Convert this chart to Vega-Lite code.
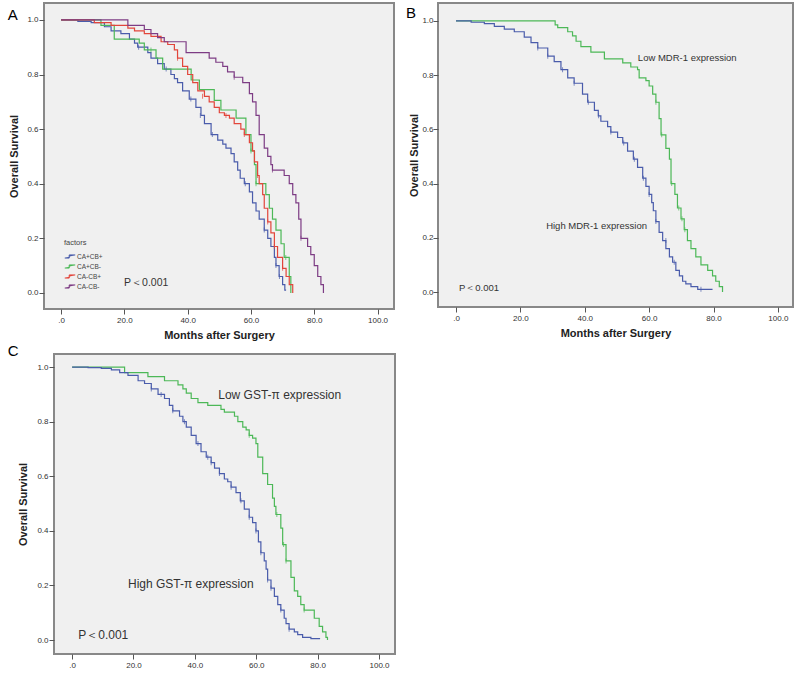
{
"$schema": "https://vega.github.io/schema/vega-lite/v6.json",
"background": "white",
"padding": {"left": 6, "top": 2, "right": 0, "bottom": 0},
"config": {
  "view": {"stroke": "#888888", "strokeWidth": 2, "fill": "#f0f0f0"},
  "axis": {"labelFont": "Liberation Sans", "labelFontSize": 8, "labelColor": "#333333", "tickColor": "#555555", "tickSize": 5, "domain": false, "grid": false, "titleFont": "Liberation Sans", "titleFontSize": 11, "titleFontWeight": "bold", "titleColor": "#222222"},
  "axisX": {"labelPadding": 2, "titlePadding": 5.5},
  "axisY": {"minExtent": 18, "maxExtent": 18},
  "text": {"font": "Liberation Sans", "color": "#333333"}
},
"datasets": {
  "A": [
    {"g":"CA+CB+","t":0,"s":1},{"g":"CA+CB+","t":5.3,"s":0.995},{"g":"CA+CB+","t":9.5,"s":0.99},{"g":"CA+CB+","t":13.7,"s":0.975},{"g":"CA+CB+","t":15.8,"s":0.96},{"g":"CA+CB+","t":18.9,"s":0.95},{"g":"CA+CB+","t":21.6,"s":0.93},{"g":"CA+CB+","t":23.2,"s":0.915},{"g":"CA+CB+","t":24.2,"s":0.9},{"g":"CA+CB+","t":27.4,"s":0.88},{"g":"CA+CB+","t":28.4,"s":0.86},{"g":"CA+CB+","t":30.5,"s":0.84},{"g":"CA+CB+","t":32.6,"s":0.82},{"g":"CA+CB+","t":34.7,"s":0.8},{"g":"CA+CB+","t":35.8,"s":0.785},{"g":"CA+CB+","t":36.8,"s":0.77},{"g":"CA+CB+","t":38.4,"s":0.74},{"g":"CA+CB+","t":40.5,"s":0.71},{"g":"CA+CB+","t":42.6,"s":0.68},{"g":"CA+CB+","t":44.2,"s":0.65},{"g":"CA+CB+","t":45.3,"s":0.62},{"g":"CA+CB+","t":47.4,"s":0.58},{"g":"CA+CB+","t":49.5,"s":0.56},{"g":"CA+CB+","t":51.1,"s":0.545},{"g":"CA+CB+","t":52.1,"s":0.53},{"g":"CA+CB+","t":53.7,"s":0.51},{"g":"CA+CB+","t":54.7,"s":0.48},{"g":"CA+CB+","t":55.8,"s":0.45},{"g":"CA+CB+","t":56.6,"s":0.42},{"g":"CA+CB+","t":57.9,"s":0.4},{"g":"CA+CB+","t":59.5,"s":0.37},{"g":"CA+CB+","t":60.5,"s":0.33},{"g":"CA+CB+","t":61.6,"s":0.3},{"g":"CA+CB+","t":62.6,"s":0.27},{"g":"CA+CB+","t":64.2,"s":0.23},{"g":"CA+CB+","t":65.3,"s":0.2},{"g":"CA+CB+","t":66.3,"s":0.17},{"g":"CA+CB+","t":67.4,"s":0.13},{"g":"CA+CB+","t":67.9,"s":0.1},{"g":"CA+CB+","t":68.9,"s":0.06},{"g":"CA+CB+","t":70.0,"s":0.03},{"g":"CA+CB+","t":70.7,"s":0.01},{"g":"CA+CB+","t":71.1,"s":0.01},
    {"g":"CA+CB-","t":0,"s":1},{"g":"CA+CB-","t":12.6,"s":0.98},{"g":"CA+CB-","t":16.8,"s":0.93},{"g":"CA+CB-","t":24.7,"s":0.915},{"g":"CA+CB-","t":26.3,"s":0.89},{"g":"CA+CB-","t":30.0,"s":0.86},{"g":"CA+CB-","t":32.1,"s":0.82},{"g":"CA+CB-","t":41.1,"s":0.78},{"g":"CA+CB-","t":43.7,"s":0.745},{"g":"CA+CB-","t":48.4,"s":0.705},{"g":"CA+CB-","t":50.5,"s":0.67},{"g":"CA+CB-","t":55.3,"s":0.64},{"g":"CA+CB-","t":58.4,"s":0.58},{"g":"CA+CB-","t":60.0,"s":0.52},{"g":"CA+CB-","t":61.1,"s":0.47},{"g":"CA+CB-","t":61.6,"s":0.4},{"g":"CA+CB-","t":64.7,"s":0.36},{"g":"CA+CB-","t":65.8,"s":0.31},{"g":"CA+CB-","t":66.8,"s":0.27},{"g":"CA+CB-","t":67.9,"s":0.23},{"g":"CA+CB-","t":69.5,"s":0.18},{"g":"CA+CB-","t":70.5,"s":0.13},{"g":"CA+CB-","t":72.1,"s":0.06},{"g":"CA+CB-","t":72.6,"s":0.0},
    {"g":"CA-CB+","t":0,"s":1},{"g":"CA-CB+","t":10.5,"s":0.99},{"g":"CA-CB+","t":15.8,"s":0.98},{"g":"CA-CB+","t":21.1,"s":0.97},{"g":"CA-CB+","t":23.2,"s":0.96},{"g":"CA-CB+","t":26.3,"s":0.95},{"g":"CA-CB+","t":28.4,"s":0.94},{"g":"CA-CB+","t":31.6,"s":0.92},{"g":"CA-CB+","t":33.7,"s":0.91},{"g":"CA-CB+","t":35.8,"s":0.89},{"g":"CA-CB+","t":36.8,"s":0.86},{"g":"CA-CB+","t":38.4,"s":0.83},{"g":"CA-CB+","t":40.0,"s":0.8},{"g":"CA-CB+","t":41.6,"s":0.77},{"g":"CA-CB+","t":43.2,"s":0.74},{"g":"CA-CB+","t":45.3,"s":0.72},{"g":"CA-CB+","t":46.8,"s":0.7},{"g":"CA-CB+","t":48.4,"s":0.68},{"g":"CA-CB+","t":50.0,"s":0.66},{"g":"CA-CB+","t":51.6,"s":0.65},{"g":"CA-CB+","t":53.2,"s":0.64},{"g":"CA-CB+","t":54.7,"s":0.62},{"g":"CA-CB+","t":56.8,"s":0.6},{"g":"CA-CB+","t":57.9,"s":0.58},{"g":"CA-CB+","t":59.5,"s":0.55},{"g":"CA-CB+","t":60.5,"s":0.52},{"g":"CA-CB+","t":61.1,"s":0.48},{"g":"CA-CB+","t":62.1,"s":0.43},{"g":"CA-CB+","t":62.6,"s":0.4},{"g":"CA-CB+","t":63.7,"s":0.36},{"g":"CA-CB+","t":64.2,"s":0.31},{"g":"CA-CB+","t":65.3,"s":0.26},{"g":"CA-CB+","t":66.3,"s":0.22},{"g":"CA-CB+","t":67.4,"s":0.17},{"g":"CA-CB+","t":68.4,"s":0.13},{"g":"CA-CB+","t":70.0,"s":0.09},{"g":"CA-CB+","t":71.1,"s":0.06},{"g":"CA-CB+","t":72.1,"s":0.03},{"g":"CA-CB+","t":73.2,"s":0.0},
    {"g":"CA-CB-","t":0,"s":1},{"g":"CA-CB-","t":21.1,"s":0.98},{"g":"CA-CB-","t":26.3,"s":0.965},{"g":"CA-CB-","t":28.4,"s":0.95},{"g":"CA-CB-","t":30.5,"s":0.935},{"g":"CA-CB-","t":32.6,"s":0.92},{"g":"CA-CB-","t":39.5,"s":0.88},{"g":"CA-CB-","t":46.8,"s":0.86},{"g":"CA-CB-","t":48.9,"s":0.845},{"g":"CA-CB-","t":51.1,"s":0.83},{"g":"CA-CB-","t":52.6,"s":0.81},{"g":"CA-CB-","t":54.7,"s":0.79},{"g":"CA-CB-","t":57.4,"s":0.77},{"g":"CA-CB-","t":59.5,"s":0.73},{"g":"CA-CB-","t":60.5,"s":0.7},{"g":"CA-CB-","t":61.6,"s":0.65},{"g":"CA-CB-","t":62.6,"s":0.58},{"g":"CA-CB-","t":64.2,"s":0.53},{"g":"CA-CB-","t":65.3,"s":0.5},{"g":"CA-CB-","t":66.3,"s":0.47},{"g":"CA-CB-","t":66.8,"s":0.45},{"g":"CA-CB-","t":70.5,"s":0.43},{"g":"CA-CB-","t":72.1,"s":0.4},{"g":"CA-CB-","t":73.2,"s":0.36},{"g":"CA-CB-","t":74.2,"s":0.33},{"g":"CA-CB-","t":75.1,"s":0.27},{"g":"CA-CB-","t":75.8,"s":0.2},{"g":"CA-CB-","t":77.9,"s":0.17},{"g":"CA-CB-","t":78.9,"s":0.14},{"g":"CA-CB-","t":80.0,"s":0.1},{"g":"CA-CB-","t":81.1,"s":0.06},{"g":"CA-CB-","t":82.1,"s":0.03},{"g":"CA-CB-","t":82.9,"s":0.0}
  ],
  "Ac": [
    {"g":"CA+CB+","t":24.5,"s":0.9},{"g":"CA+CB+","t":33.2,"s":0.82},{"g":"CA+CB+","t":41.0,"s":0.71},{"g":"CA+CB+","t":44.0,"s":0.65},{"g":"CA+CB+","t":47.8,"s":0.58},{"g":"CA+CB+","t":58.2,"s":0.4},{"g":"CA+CB+","t":64.2,"s":0.23},{"g":"CA+CB+","t":67.9,"s":0.1},{"g":"CA+CB+","t":69.0,"s":0.06},
    {"g":"CA-CB+","t":36.8,"s":0.86},{"g":"CA-CB+","t":44.7,"s":0.72},{"g":"CA-CB+","t":52.1,"s":0.65},{"g":"CA-CB+","t":57.9,"s":0.58},{"g":"CA-CB+","t":62.1,"s":0.43},{"g":"CA-CB+","t":65.3,"s":0.26},{"g":"CA-CB+","t":67.4,"s":0.17},{"g":"CA-CB+","t":70.0,"s":0.09},
    {"g":"CA+CB-","t":28.4,"s":0.89},{"g":"CA+CB-","t":60.0,"s":0.52},{"g":"CA+CB-","t":61.6,"s":0.4},{"g":"CA+CB-","t":71.0,"s":0.13},
    {"g":"CA-CB-","t":54.7,"s":0.79},{"g":"CA-CB-","t":66.8,"s":0.45},{"g":"CA-CB-","t":75.8,"s":0.2}
  ],
  "B": [
    {"g":"Low","t":0,"s":1},{"g":"Low","t":30.8,"s":0.985},{"g":"Low","t":31.6,"s":0.975},{"g":"Low","t":34.7,"s":0.96},{"g":"Low","t":36.2,"s":0.945},{"g":"Low","t":37.3,"s":0.925},{"g":"Low","t":38.8,"s":0.905},{"g":"Low","t":41.9,"s":0.885},{"g":"Low","t":46.1,"s":0.86},{"g":"Low","t":51.8,"s":0.845},{"g":"Low","t":54.3,"s":0.83},{"g":"Low","t":56.4,"s":0.82},{"g":"Low","t":56.9,"s":0.79},{"g":"Low","t":59.0,"s":0.78},{"g":"Low","t":60.0,"s":0.76},{"g":"Low","t":61.1,"s":0.73},{"g":"Low","t":62.1,"s":0.7},{"g":"Low","t":63.1,"s":0.64},{"g":"Low","t":63.7,"s":0.58},{"g":"Low","t":65.2,"s":0.53},{"g":"Low","t":66.3,"s":0.49},{"g":"Low","t":66.8,"s":0.4},{"g":"Low","t":68.0,"s":0.36},{"g":"Low","t":68.8,"s":0.31},{"g":"Low","t":69.9,"s":0.27},{"g":"Low","t":70.9,"s":0.23},{"g":"Low","t":71.9,"s":0.19},{"g":"Low","t":73.0,"s":0.16},{"g":"Low","t":74.5,"s":0.13},{"g":"Low","t":76.1,"s":0.1},{"g":"Low","t":78.2,"s":0.08},{"g":"Low","t":79.7,"s":0.06},{"g":"Low","t":80.7,"s":0.04},{"g":"Low","t":81.8,"s":0.02},{"g":"Low","t":82.8,"s":0.0},
    {"g":"High","t":0,"s":1},{"g":"High","t":4.7,"s":0.995},{"g":"High","t":8.8,"s":0.99},{"g":"High","t":11.9,"s":0.98},{"g":"High","t":15.0,"s":0.97},{"g":"High","t":18.1,"s":0.96},{"g":"High","t":21.2,"s":0.94},{"g":"High","t":23.3,"s":0.92},{"g":"High","t":25.4,"s":0.9},{"g":"High","t":28.5,"s":0.87},{"g":"High","t":30.5,"s":0.85},{"g":"High","t":32.6,"s":0.82},{"g":"High","t":34.7,"s":0.79},{"g":"High","t":36.7,"s":0.77},{"g":"High","t":39.3,"s":0.73},{"g":"High","t":40.9,"s":0.7},{"g":"High","t":43.0,"s":0.67},{"g":"High","t":44.2,"s":0.65},{"g":"High","t":45.0,"s":0.63},{"g":"High","t":47.1,"s":0.61},{"g":"High","t":48.1,"s":0.59},{"g":"High","t":50.2,"s":0.57},{"g":"High","t":51.8,"s":0.55},{"g":"High","t":53.3,"s":0.52},{"g":"High","t":55.1,"s":0.49},{"g":"High","t":56.4,"s":0.46},{"g":"High","t":58.0,"s":0.42},{"g":"High","t":59.0,"s":0.39},{"g":"High","t":60.0,"s":0.36},{"g":"High","t":60.8,"s":0.33},{"g":"High","t":61.3,"s":0.3},{"g":"High","t":62.1,"s":0.26},{"g":"High","t":63.1,"s":0.22},{"g":"High","t":64.2,"s":0.19},{"g":"High","t":65.2,"s":0.16},{"g":"High","t":66.3,"s":0.13},{"g":"High","t":67.3,"s":0.11},{"g":"High","t":68.3,"s":0.08},{"g":"High","t":69.4,"s":0.06},{"g":"High","t":70.4,"s":0.04},{"g":"High","t":71.4,"s":0.03},{"g":"High","t":73.0,"s":0.02},{"g":"High","t":75.1,"s":0.01},{"g":"High","t":79.7,"s":0.01}
  ],
  "Bc": [
    {"g":"High","t":25.4,"s":0.9},{"g":"High","t":28.5,"s":0.87},{"g":"High","t":33.1,"s":0.82},{"g":"High","t":36.7,"s":0.77},{"g":"High","t":41.1,"s":0.7},{"g":"High","t":44.3,"s":0.65},{"g":"High","t":48.1,"s":0.59},{"g":"High","t":52.1,"s":0.55},{"g":"High","t":55.4,"s":0.49},{"g":"High","t":58.2,"s":0.42},{"g":"High","t":60.0,"s":0.36},{"g":"High","t":62.1,"s":0.26},{"g":"High","t":65.2,"s":0.19},{"g":"High","t":67.8,"s":0.11},{"g":"High","t":76.1,"s":0.01},
    {"g":"Low","t":62.1,"s":0.7},{"g":"Low","t":63.9,"s":0.58},{"g":"Low","t":67.0,"s":0.4},{"g":"Low","t":69.2,"s":0.31},{"g":"Low","t":70.2,"s":0.27},{"g":"Low","t":71.1,"s":0.23}
  ],
  "C": [
    {"g":"Low","t":0,"s":1},{"g":"Low","t":17.1,"s":0.98},{"g":"Low","t":24.7,"s":0.965},{"g":"Low","t":30.1,"s":0.95},{"g":"Low","t":34.5,"s":0.935},{"g":"Low","t":36.1,"s":0.92},{"g":"Low","t":37.2,"s":0.905},{"g":"Low","t":38.8,"s":0.885},{"g":"Low","t":41.0,"s":0.87},{"g":"Low","t":44.2,"s":0.86},{"g":"Low","t":48.5,"s":0.845},{"g":"Low","t":49.6,"s":0.835},{"g":"Low","t":52.9,"s":0.82},{"g":"Low","t":54.0,"s":0.8},{"g":"Low","t":55.6,"s":0.78},{"g":"Low","t":56.7,"s":0.77},{"g":"Low","t":57.7,"s":0.75},{"g":"Low","t":58.8,"s":0.74},{"g":"Low","t":59.9,"s":0.72},{"g":"Low","t":60.5,"s":0.67},{"g":"Low","t":62.1,"s":0.61},{"g":"Low","t":63.7,"s":0.57},{"g":"Low","t":65.3,"s":0.52},{"g":"Low","t":65.9,"s":0.49},{"g":"Low","t":66.4,"s":0.46},{"g":"Low","t":68.0,"s":0.41},{"g":"Low","t":68.6,"s":0.35},{"g":"Low","t":69.7,"s":0.29},{"g":"Low","t":71.3,"s":0.23},{"g":"Low","t":72.4,"s":0.18},{"g":"Low","t":73.5,"s":0.16},{"g":"Low","t":74.5,"s":0.13},{"g":"Low","t":75.6,"s":0.11},{"g":"Low","t":78.9,"s":0.08},{"g":"Low","t":80.5,"s":0.05},{"g":"Low","t":81.6,"s":0.03},{"g":"Low","t":82.7,"s":0.01},{"g":"Low","t":83.2,"s":0.0},
    {"g":"High","t":0,"s":1},{"g":"High","t":5.2,"s":0.998},{"g":"High","t":9.5,"s":0.995},{"g":"High","t":12.8,"s":0.99},{"g":"High","t":15.5,"s":0.98},{"g":"High","t":18.2,"s":0.97},{"g":"High","t":21.5,"s":0.95},{"g":"High","t":23.6,"s":0.94},{"g":"High","t":25.8,"s":0.92},{"g":"High","t":28.0,"s":0.9},{"g":"High","t":30.1,"s":0.885},{"g":"High","t":31.7,"s":0.86},{"g":"High","t":32.8,"s":0.84},{"g":"High","t":35.0,"s":0.82},{"g":"High","t":36.1,"s":0.8},{"g":"High","t":37.2,"s":0.78},{"g":"High","t":38.8,"s":0.75},{"g":"High","t":40.4,"s":0.72},{"g":"High","t":42.0,"s":0.69},{"g":"High","t":43.7,"s":0.67},{"g":"High","t":45.3,"s":0.65},{"g":"High","t":46.4,"s":0.63},{"g":"High","t":48.0,"s":0.61},{"g":"High","t":49.6,"s":0.59},{"g":"High","t":50.7,"s":0.58},{"g":"High","t":51.8,"s":0.56},{"g":"High","t":53.4,"s":0.54},{"g":"High","t":54.8,"s":0.51},{"g":"High","t":56.1,"s":0.48},{"g":"High","t":57.7,"s":0.45},{"g":"High","t":58.8,"s":0.43},{"g":"High","t":59.9,"s":0.4},{"g":"High","t":60.7,"s":0.36},{"g":"High","t":61.5,"s":0.32},{"g":"High","t":62.6,"s":0.29},{"g":"High","t":63.2,"s":0.26},{"g":"High","t":63.7,"s":0.22},{"g":"High","t":64.8,"s":0.19},{"g":"High","t":65.9,"s":0.16},{"g":"High","t":67.0,"s":0.13},{"g":"High","t":68.0,"s":0.11},{"g":"High","t":69.1,"s":0.08},{"g":"High","t":69.7,"s":0.06},{"g":"High","t":70.7,"s":0.04},{"g":"High","t":72.4,"s":0.03},{"g":"High","t":73.5,"s":0.02},{"g":"High","t":75.1,"s":0.01},{"g":"High","t":77.8,"s":0.005},{"g":"High","t":80.8,"s":0.005}
  ],
  "Cc": [
    {"g":"High","t":25.8,"s":0.92},{"g":"High","t":29.0,"s":0.9},{"g":"High","t":32.8,"s":0.84},{"g":"High","t":36.6,"s":0.8},{"g":"High","t":41.0,"s":0.72},{"g":"High","t":44.2,"s":0.67},{"g":"High","t":45.3,"s":0.65},{"g":"High","t":48.0,"s":0.61},{"g":"High","t":51.8,"s":0.56},{"g":"High","t":55.0,"s":0.51},{"g":"High","t":57.7,"s":0.45},{"g":"High","t":59.9,"s":0.4},{"g":"High","t":61.5,"s":0.32},{"g":"High","t":63.7,"s":0.22},{"g":"High","t":64.8,"s":0.19},{"g":"High","t":68.0,"s":0.11},{"g":"High","t":70.7,"s":0.04},
    {"g":"Low","t":57.7,"s":0.75},{"g":"Low","t":66.7,"s":0.46},{"g":"Low","t":68.9,"s":0.35},{"g":"Low","t":69.7,"s":0.29},{"g":"Low","t":75.6,"s":0.11}
  ]
},
"vconcat": [
  {
    "hconcat": [
      {
        "width": 350, "height": 306,
        "layer": [
          {
            "data": {"name": "A"},
            "mark": {"type": "line", "interpolate": "step-after", "strokeWidth": 1.2},
            "encoding": {
              "x": {"field": "t", "type": "quantitative", "scale": {"domain": [-5.4, 105.2], "nice": false, "zero": false}, "axis": {"values": [0, 20, 40, 60, 80, 100], "labelExpr": "datum.value === 0 ? '.0' : format(datum.value, '.1f')", "title": "Months after Surgery"}},
              "y": {"field": "s", "type": "quantitative", "scale": {"domain": [-0.059, 1.062], "nice": false, "zero": false}, "axis": {"values": [0, 0.2, 0.4, 0.6, 0.8, 1.0], "format": ".1f", "labelPadding": 1, "titlePadding": 6.5, "title": "Overall Survival"}},
              "color": {"field": "g", "type": "nominal", "scale": {"domain": ["CA+CB+", "CA+CB-", "CA-CB+", "CA-CB-"], "range": ["#4a5cab", "#4cb857", "#e2453b", "#7d3c84"]}, "legend": {"title": "factors", "orient": "none", "legendX": 20, "legendY": 236, "symbolType": "M-1,0.3L-0.15,0.3L-0.15,-0.3L1,-0.3", "symbolSize": 110, "symbolStrokeWidth": 1, "symbolFillColor": "transparent", "labelFont": "Liberation Sans", "labelFontSize": 6.5, "labelColor": "#444444", "titleFont": "Liberation Sans", "titleFontSize": 7.5, "titleFontWeight": "normal", "titleColor": "#444444", "rowPadding": -1.5, "titlePadding": 4, "labelOffset": 1, "padding": 0}}
            }
          },
          {
            "data": {"name": "Ac"},
            "mark": {"type": "tick", "orient": "vertical", "size": 5, "thickness": 1},
            "encoding": {
              "x": {"field": "t", "type": "quantitative"},
              "y": {"field": "s", "type": "quantitative"},
              "color": {"field": "g", "type": "nominal", "legend": null}
            }
          },
          {
            "data": {"values": [{"x": 19.9, "y": 0.037, "label": "P＜0.001"}]},
            "mark": {"type": "text", "align": "left", "baseline": "middle", "fontSize": 10.5},
            "encoding": {
              "x": {"field": "x", "type": "quantitative"},
              "y": {"field": "y", "type": "quantitative"},
              "text": {"field": "label"}
            }
          },
          {
            "data": {"values": [{"x": -15.3, "y": 1.018, "label": "A"}]},
            "mark": {"type": "text", "align": "center", "baseline": "middle", "fontSize": 15, "color": "#000000"},
            "encoding": {
              "x": {"field": "x", "type": "quantitative"},
              "y": {"field": "y", "type": "quantitative"},
              "text": {"field": "label"}
            }
          }
        ]
      },
      {
        "width": 355, "height": 304,
        "layer": [
          {
            "data": {"name": "B"},
            "mark": {"type": "line", "interpolate": "step-after", "strokeWidth": 1.2},
            "encoding": {
              "x": {"field": "t", "type": "quantitative", "scale": {"domain": [-5.6, 104.7], "nice": false, "zero": false}, "axis": {"values": [0, 20, 40, 60, 80, 100], "labelExpr": "datum.value === 0 ? '.0' : format(datum.value, '.1f')", "title": "Months after Surgery"}},
              "y": {"field": "s", "type": "quantitative", "scale": {"domain": [-0.055, 1.066], "nice": false, "zero": false}, "axis": {"values": [0, 0.2, 0.4, 0.6, 0.8, 1.0], "format": ".1f", "labelPadding": 0, "titlePadding": 0.5, "title": "Overall Survival"}},
              "color": {"field": "g", "type": "nominal", "scale": {"domain": ["High", "Low"], "range": ["#4a5cab", "#4cb857"]}, "legend": null}
            }
          },
          {
            "data": {"name": "Bc"},
            "mark": {"type": "tick", "orient": "vertical", "size": 5, "thickness": 1},
            "encoding": {
              "x": {"field": "t", "type": "quantitative"},
              "y": {"field": "s", "type": "quantitative"},
              "color": {"field": "g", "type": "nominal", "legend": null}
            }
          },
          {
            "data": {"values": [{"x": 56.5, "y": 0.863, "label": "Low MDR-1 expression"}, {"x": 28.0, "y": 0.243, "label": "High MDR-1 expression"}, {"x": 0.9, "y": 0.015, "label": "P＜0.001"}]},
            "mark": {"type": "text", "align": "left", "baseline": "middle", "fontSize": 9.5},
            "encoding": {
              "x": {"field": "x", "type": "quantitative"},
              "y": {"field": "y", "type": "quantitative"},
              "text": {"field": "label"}
            }
          },
          {
            "data": {"values": [{"x": -14.0, "y": 1.03, "label": "B"}]},
            "mark": {"type": "text", "align": "center", "baseline": "middle", "fontSize": 15, "color": "#000000"},
            "encoding": {
              "x": {"field": "x", "type": "quantitative"},
              "y": {"field": "y", "type": "quantitative"},
              "text": {"field": "label"}
            }
          }
        ]
      }
    ],
    "spacing": 44,
    "bounds": "flush",
    "resolve": {"scale": {"color": "independent"}, "legend": {"color": "independent"}}
  },
  {
    "hconcat": [
      {
        "width": 10, "height": 10,
        "data": {"values": []},
        "mark": {"type": "point", "opacity": 0},
        "view": {"stroke": null, "fill": null}
      },
      {
        "width": 341, "height": 300,
        "layer": [
          {
            "data": {"name": "C"},
            "mark": {"type": "line", "interpolate": "step-after", "strokeWidth": 1.2},
            "encoding": {
              "x": {"field": "t", "type": "quantitative", "scale": {"domain": [-5.9, 105.2], "nice": false, "zero": false}, "axis": {"values": [0, 20, 40, 60, 80, 100], "labelExpr": "datum.value === 0 ? '.0' : format(datum.value, '.1f')", "title": "Months after Surgery"}},
              "y": {"field": "s", "type": "quantitative", "scale": {"domain": [-0.051, 1.048], "nice": false, "zero": false}, "axis": {"values": [0, 0.2, 0.4, 0.6, 0.8, 1.0], "format": ".1f", "labelPadding": 1, "titlePadding": 8, "title": "Overall Survival"}},
              "color": {"field": "g", "type": "nominal", "scale": {"domain": ["High", "Low"], "range": ["#4a5cab", "#4cb857"]}, "legend": null}
            }
          },
          {
            "data": {"name": "Cc"},
            "mark": {"type": "tick", "orient": "vertical", "size": 5, "thickness": 1},
            "encoding": {
              "x": {"field": "t", "type": "quantitative"},
              "y": {"field": "s", "type": "quantitative"},
              "color": {"field": "g", "type": "nominal", "legend": null}
            }
          },
          {
            "data": {"values": [{"x": 47.6, "y": 0.897, "label": "Low GST-π expression"}, {"x": 18.2, "y": 0.205, "label": "High GST-π expression"}, {"x": 2.0, "y": 0.018, "label": "P＜0.001"}]},
            "mark": {"type": "text", "align": "left", "baseline": "middle", "fontSize": 12},
            "encoding": {
              "x": {"field": "x", "type": "quantitative"},
              "y": {"field": "y", "type": "quantitative"},
              "text": {"field": "label"}
            }
          },
          {
            "data": {"values": [{"x": -19.2, "y": 1.059, "label": "C"}]},
            "mark": {"type": "text", "align": "center", "baseline": "middle", "fontSize": 15, "color": "#000000"},
            "encoding": {
              "x": {"field": "x", "type": "quantitative"},
              "y": {"field": "y", "type": "quantitative"},
              "text": {"field": "label"}
            }
          }
        ]
      }
    ],
    "spacing": 0,
    "bounds": "flush",
    "resolve": {"scale": {"color": "independent"}, "legend": {"color": "independent"}}
  }
],
"spacing": 0,
"resolve": {"scale": {"color": "independent"}, "legend": {"color": "independent"}}
}
